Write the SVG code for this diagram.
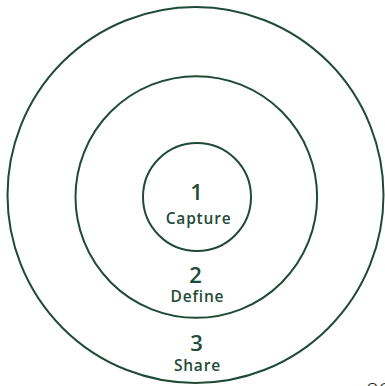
<svg xmlns="http://www.w3.org/2000/svg" width="385" height="386" viewBox="0 0 385 386">
  <style>
    .ring { fill: none; stroke: #1f4b36; stroke-width: 2; }
    .step { font-family: "Open Sans", "Noto Sans", sans-serif; font-weight: 600; fill: #1f4b36; text-anchor: middle; }
    .num { font-size: 22px; letter-spacing: 0; }
    .lbl { font-size: 15.5px; letter-spacing: 0.8px; }
    .corner { font-family: "Lato", "Open Sans", sans-serif; font-weight: 300; font-size: 22px; fill: #222; }
  </style>
  <rect width="385" height="386" fill="#ffffff"/>
  <g id="ring-share">
    <circle class="ring" cx="195.5" cy="195" r="188"/>
    <text class="step"><tspan class="num" x="196.5" y="351">3</tspan><tspan class="lbl" x="197.4" y="370.7">Share</tspan></text>
  </g>
  <g id="ring-define">
    <circle class="ring" cx="196.3" cy="197" r="120.8"/>
    <text class="step"><tspan class="num" x="195.5" y="282.7">2</tspan><tspan class="lbl" x="197.4" y="302.3">Define</tspan></text>
  </g>
  <g id="ring-capture">
    <circle class="ring" cx="197" cy="197" r="54"/>
    <text class="step"><tspan class="num" x="196.5" y="200">1</tspan><tspan class="lbl" x="198.6" y="223.5">Capture</tspan></text>
  </g>
  <g id="connectors"/>
  <text class="corner" x="366" y="398">20</text>
</svg>
